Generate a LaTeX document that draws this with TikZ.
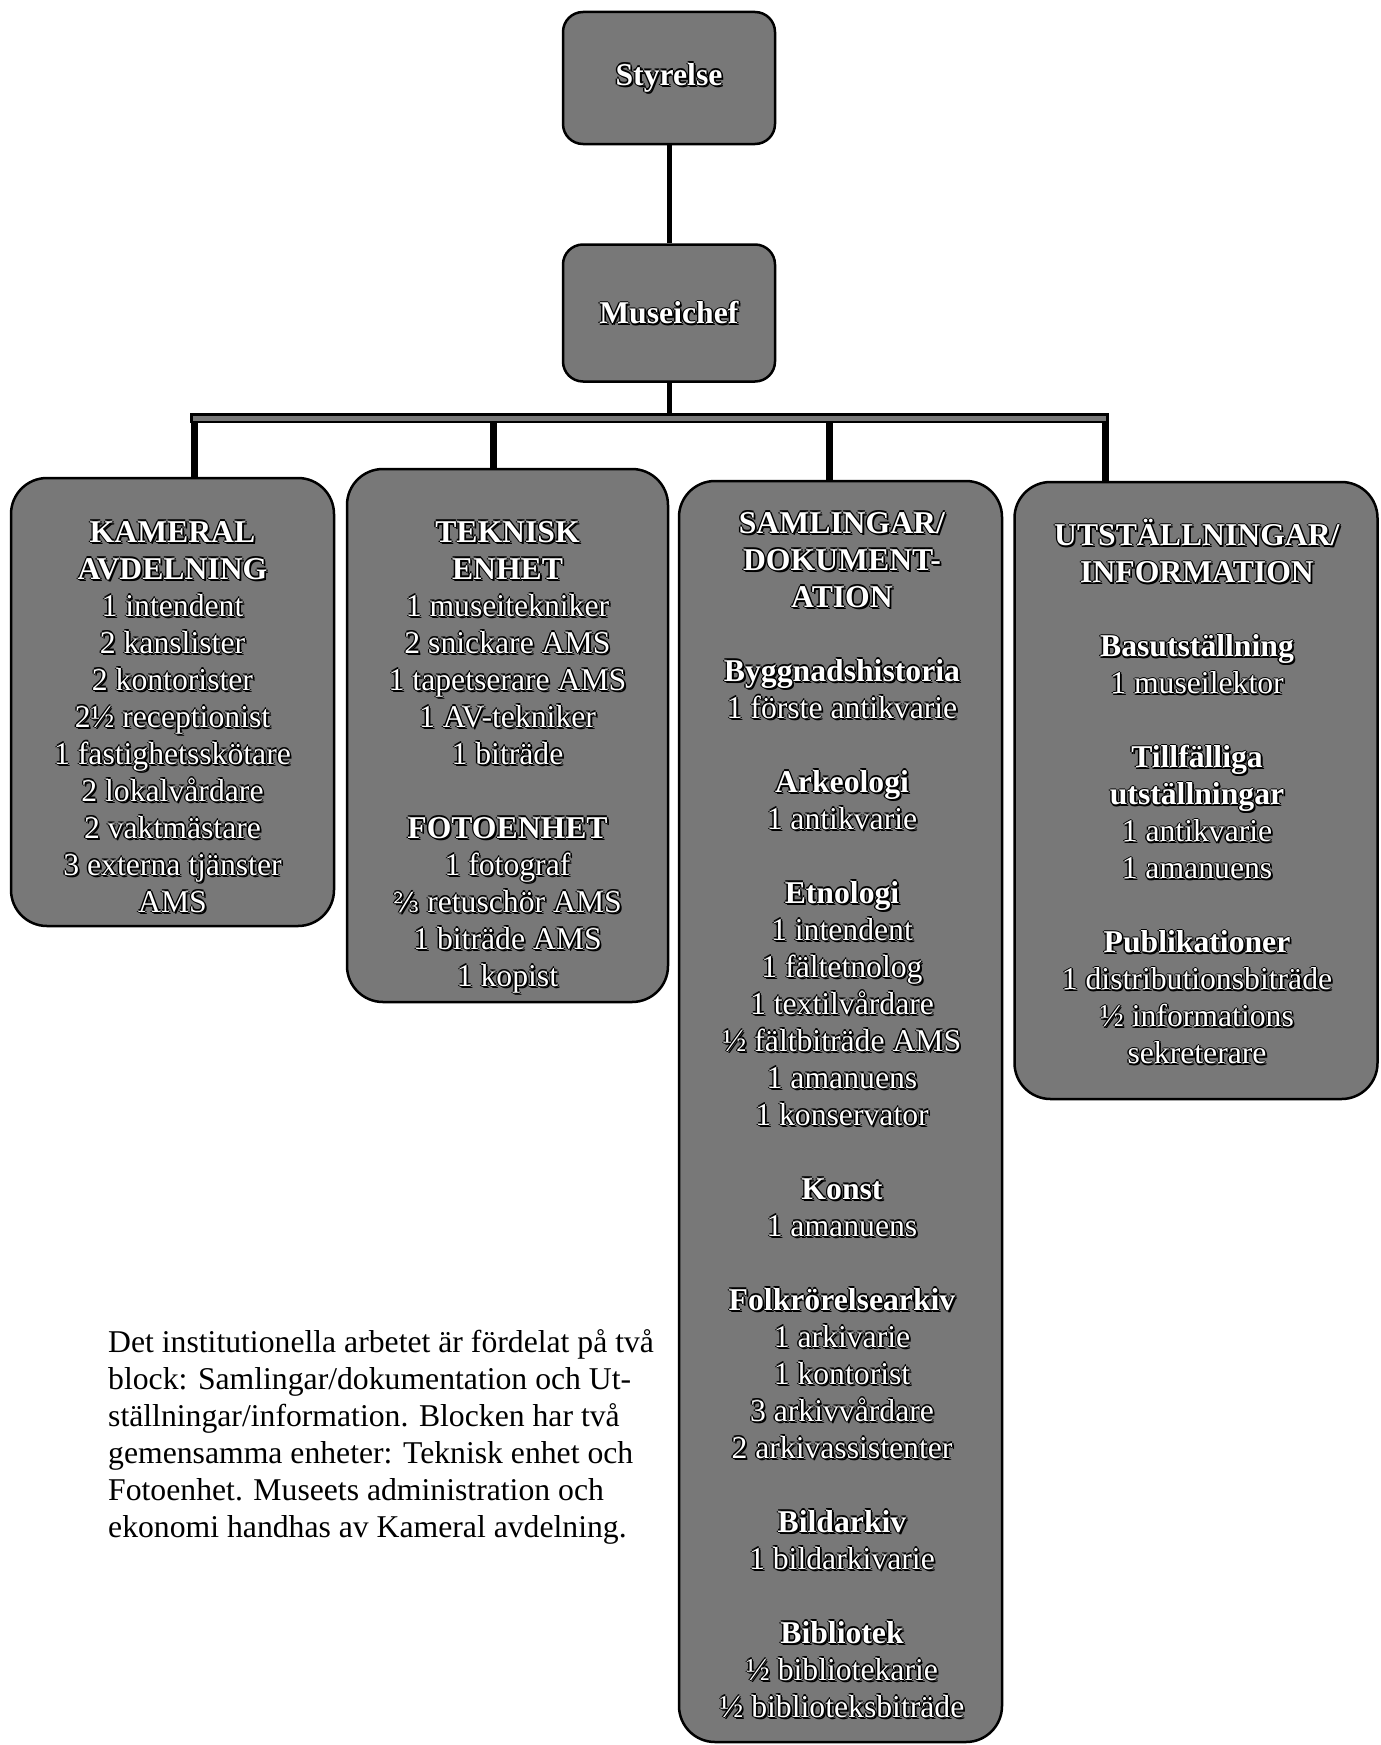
\documentclass[tikz,border=0pt]{standalone}
\usepackage{fontspec}
\setmainfont{Liberation Serif}
\newfontfamily\dvs{DejaVu Serif}
\definecolor{boxgray}{RGB}{120,120,120}
\newcommand\fs{\fontsize{31.7pt}{37pt}\selectfont}
\newcommand\otx[1]{\leavevmode
  \rlap{\kern-1.4pt\textcolor{black}{#1}}%
  \rlap{\kern1.4pt\textcolor{black}{#1}}%
  \rlap{\raisebox{1.4pt}{\textcolor{black}{#1}}}%
  \rlap{\raisebox{-1.4pt}{\textcolor{black}{#1}}}%
  \rlap{\kern1.8pt\raisebox{-1.8pt}{\textcolor{black}{#1}}}%
  \textcolor{white}{#1}}
\newcommand\ob[1]{\otx{\textbf{#1}}}
\newcommand\twothirds{{\dvs\fontsize{27pt}{27pt}\selectfont ⅔}}
\newcommand\st{\rule{0pt}{26pt}}
\begin{document}
\begin{tikzpicture}[x=1pt,y=-1pt,
  box/.style={draw=black, line width=2.5pt, fill=boxgray, rounded corners=36pt, inner sep=0pt},
  smallbox/.style={draw=black, line width=2.5pt, fill=boxgray, rounded corners=20pt, inner sep=0pt, minimum width=212pt, font=\fs},
  lbl/.style={anchor=north, inner sep=0pt, align=center, font=\fs},
  conn/.style={draw=black, line width=5pt},
  drop/.style={draw=black, line width=7pt},
  barout/.style={draw=black, line width=10pt},
  barin/.style={draw=boxgray, line width=5pt}
]
\useasboundingbox[fill=white] (0,0) rectangle (1381,1745);

% boxes
\node[smallbox, minimum height=132pt] (sty) at (669,78) {\ob{Styrelse}};
\node[smallbox, minimum height=137pt] (mus) at (669,313) {\ob{Museichef}};
\node[box, minimum width=323pt, minimum height=448pt] (kam) at (172.5,702) {};
\node[box, minimum width=321pt, minimum height=533pt] (tek) at (507.5,735.5) {};
\node[box, minimum width=323pt, minimum height=1261pt] (sam) at (840.5,1111.5) {};
\node[box, minimum width=363pt, minimum height=617pt] (uts) at (1196,790.5) {};

% connectors
\coordinate (hub) at (669,418);
\coordinate (b1) at (194,418);
\coordinate (b2) at (493,418);
\coordinate (b3) at (829,418);
\coordinate (b4) at (1105,418);
\draw[conn] (sty.south) -- (mus.north);
\draw[conn] (mus.south) -- (hub);
\draw[drop] (b1) -- (b1 |- kam.north);
\draw[drop] (b2) -- (b2 |- tek.north);
\draw[drop] (b3) -- (b3 |- sam.north);
\draw[drop] (b4) -- (b4 |- uts.north);
\draw[barout] ([xshift=-4pt]b1) -- ([xshift=4pt]b4);
\draw[barin] ([xshift=-1pt]b1) -- ([xshift=1pt]b4);

% box texts
\node[lbl] (kamT) at (172.5,516) {\st\ob{KAMERAL}\\
\ob{AVDELNING}\\
\otx{1 intendent}\\
\otx{2 kanslister}\\
\otx{2 kontorister}\\
\otx{2½ receptionist}\\
\otx{1 fastighetsskötare}\\
\otx{2 lokalvårdare}\\
\otx{2 vaktmästare}\\
\otx{3 externa tjänster}\\
\otx{AMS}};

\node[lbl] (tekT) at (507.5,516) {\st\ob{TEKNISK}\\
\ob{ENHET}\\
\otx{1 museitekniker}\\
\otx{2 snickare AMS}\\
\otx{1 tapetserare AMS}\\
\otx{1 AV-tekniker}\\
\otx{1 biträde}\\[37pt]
\ob{FOTOENHET}\\
\otx{1 fotograf}\\
\otx{\twothirds{} retuschör AMS}\\
\otx{1 biträde AMS}\\
\otx{1 kopist}};

\node[lbl] (samT) at (842,507) {\st\ob{SAMLINGAR/}\\
\ob{DOKUMENT-}\\
\ob{ATION}\\[37pt]
\ob{Byggnadshistoria}\\
\otx{1 förste antikvarie}\\[37pt]
\ob{Arkeologi}\\
\otx{1 antikvarie}\\[37pt]
\ob{Etnologi}\\
\otx{1 intendent}\\
\otx{1 fältetnolog}\\
\otx{1 textilvårdare}\\
\otx{½ fältbiträde AMS}\\
\otx{1 amanuens}\\
\otx{1 konservator}\\[37pt]
\ob{Konst}\\
\otx{1 amanuens}\\[37pt]
\ob{Folkrörelsearkiv}\\
\otx{1 arkivarie}\\
\otx{1 kontorist}\\
\otx{3 arkivvårdare}\\
\otx{2 arkivassistenter}\\[37pt]
\ob{Bildarkiv}\\
\otx{1 bildarkivarie}\\[37pt]
\ob{Bibliotek}\\
\otx{½ bibliotekarie}\\
\otx{½ biblioteksbiträde}};

\node[lbl] (utsT) at (1197,518) {\st\ob{UTSTÄLLNINGAR/}\\
\ob{INFORMATION}\\[37pt]
\ob{Basutställning}\\
\otx{1 museilektor}\\[37pt]
\ob{Tillfälliga}\\
\ob{utställningar}\\
\otx{1 antikvarie}\\
\otx{1 amanuens}\\[37pt]
\ob{Publikationer}\\
\otx{1 distributionsbiträde}\\
\otx{½ informations}\\
\otx{sekreterare}};

% paragraph
\node[anchor=north west, inner sep=0pt, align=left, font=\fs] (para) at (108,1326) {\st Det institutionella arbetet är fördelat på två\\
block: Samlingar/dokumentation och Ut-\\
ställningar/information. Blocken har två\\
gemensamma enheter: Teknisk enhet och\\
Fotoenhet. Museets administration och\\
ekonomi handhas av Kameral avdelning.};
\end{tikzpicture}
\end{document}
